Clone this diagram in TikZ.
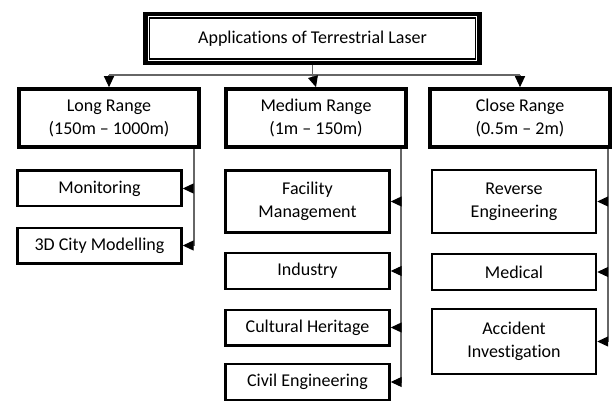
\documentclass[tikz,border=0pt]{standalone}
\usepackage{fontspec}
\setmainfont{Carlito}[Ligatures=NoCommon]
\usetikzlibrary{arrows.meta}
\begin{document}
\begin{tikzpicture}[x=0.5pt, y=-0.5pt, font=\fontsize{9}{11.5}\selectfont,
    conn/.style={draw=black!60, line width=0.55pt},
    rangebox/.style={draw, line width=1.8pt, minimum width=90pt, minimum height=29pt, align=center, inner sep=0pt},
    appbox/.style={draw, line width=1.2pt, minimum width=82pt, minimum height=17.8pt, align=center, inner sep=0pt}]
  \useasboundingbox (0,0) rectangle (613,400);
  % title with double frame
  \node[draw, line width=2.2pt, minimum width=167pt, minimum height=24.3pt] (title) at (312.5,38.5) {Applications of Terrestrial Laser};
  \draw[line width=0.7pt] ([shift={(3pt,-3pt)}]title.north west) rectangle ([shift={(-3pt,3pt)}]title.south east);
  \begin{scope}[every node/.style={rangebox}]
    \node (long)   at (109,118) {Long Range\\(150m -- 1000m)};
    \node (medium) at (316,118) {Medium Range\\(1m -- 150m)};
    \node (close)  at (520,118) {Close Range\\(0.5m -- 2m)};
  \end{scope}
  \begin{scope}[every node/.style={appbox}]
    \node (mon)  at (99.5,188.5) {Monitoring};
    \node (city) at (99.5,245.5) {3D City Modelling};
    \node[minimum height=30.8pt] (fac) at (307.5,201.5) {Facility\\Management};
    \node (ind)  at (307.5,271)   {Industry};
    \node (cult) at (307.5,327.5) {Cultural Heritage};
    \node (civ)  at (307.5,382)   {Civil Engineering};
    \node[minimum height=31.5pt] (rev) at (514,201.5) {Reverse\\Engineering};
    \node (med)  at (514,272)     {Medical};
    \node[minimum height=32.5pt] (acc) at (514,341.5) {Accident\\Investigation};
  \end{scope}
  \coordinate (bus)  at (312.5,75);
  \coordinate (lcol) at (194,149);
  \coordinate (mcol) at (401,149);
  \coordinate (ccol) at (608,149);
  \draw[conn] (title.south) -- (bus);
  \draw[conn] (long.north |- bus) -- (close.north |- bus);
  \draw[conn] (lcol) -- (lcol |- city.east);
  \draw[conn] (mcol) -- (mcol |- civ.east);
  \draw[conn] (ccol) -- (ccol |- acc.east);
  \begin{scope}[every edge/.style={conn, -{Triangle[length=5.5pt, width=5pt, color=black]}}]
    \path (long.north |- bus) edge (long.north);
    \path (bus) edge (medium.north);
    \path (close.north |- bus) edge (close.north);
    \path (lcol |- mon.east) edge (mon.east);
    \path (lcol |- city.east) edge (city.east);
    \path (mcol |- fac.east) edge (fac.east);
    \path (mcol |- ind.east) edge (ind.east);
    \path (mcol |- cult.east) edge (cult.east);
    \path (mcol |- civ.east) edge (civ.east);
    \path (ccol |- rev.east) edge (rev.east);
    \path (ccol |- med.east) edge (med.east);
    \path (ccol |- acc.east) edge (acc.east);
  \end{scope}
\end{tikzpicture}
\end{document}
